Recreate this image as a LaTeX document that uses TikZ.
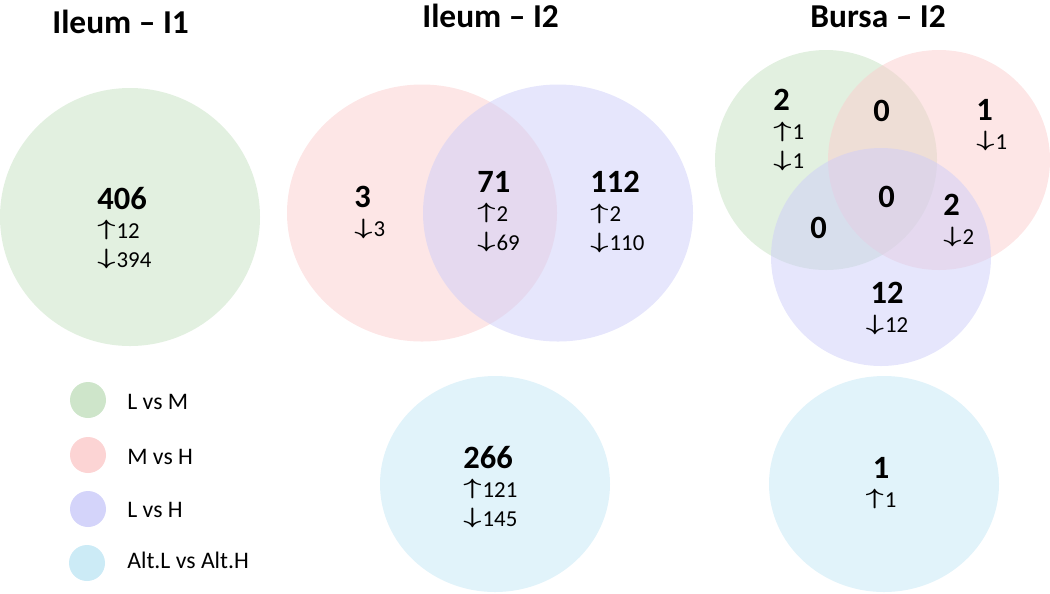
\documentclass[tikz,border=0pt]{standalone}
\usepackage{fontspec}
\setmainfont{Carlito}
\usetikzlibrary{positioning}

\definecolor{lmset}{RGB}{197,225,193}
\definecolor{mhset}{RGB}{251,205,205}
\definecolor{lhset}{RGB}{205,205,249}
\definecolor{altset}{RGB}{195,231,245}

\newcommand{\arrup}{\smash{\raisebox{1.5pt}{\scalebox{1.5}[1.05]{\boldmath$\uparrow$}}}\kern0.6pt}
\newcommand{\arrdn}{\smash{\raisebox{1.5pt}{\scalebox{1.5}[1.05]{\boldmath$\downarrow$}}}\kern0.6pt}
\newcommand{\vennnum}[1]{{\fontsize{18.5}{22}\selectfont\bfseries #1}}

\begin{document}
\begin{tikzpicture}[x=0.02cm, y=-0.02cm,
    setfill/.style={fill=#1, fill opacity=0.5},
    legdot/.style={fill=#1, fill opacity=0.85},
    title/.style={anchor=base west, inner sep=0pt, font=\fontsize{19}{22}\selectfont\bfseries},
    big/.style={anchor=base west, inner sep=0pt, font=\fontsize{18.5}{22}\selectfont\bfseries},
    count/.style={anchor=north west, inner sep=0pt, align=left, font=\fontsize{13}{16.5}\selectfont},
    ccount/.style={count, anchor=north, align=center},
    legtext/.style={anchor=base west, inner sep=0pt, font=\fontsize{13.5}{16}\selectfont}]

    \useasboundingbox (0,0) rectangle (1050,593);

    % Sets
    \fill[setfill=lmset] (130,217) ellipse [x radius=130, y radius=129];
    \fill[setfill=mhset] (422,213) ellipse [x radius=135, y radius=128.5];
    \fill[setfill=lhset] (558,213) ellipse [x radius=135, y radius=128.5];
    \fill[setfill=altset] (495,484) ellipse [x radius=115, y radius=108];
    \fill[setfill=lmset] (826,160) ellipse [x radius=111, y radius=110];
    \fill[setfill=mhset] (939,160) ellipse [x radius=111, y radius=110];
    \fill[setfill=lhset] (881,257) ellipse [x radius=110, y radius=109];
    \fill[setfill=altset] (884,484) ellipse [x radius=115, y radius=108];

    % Titles
    \node[title] (ileumA) at (52,33) {Ileum – I1};
    \node[title] (ileumB) at (422,27) {Ileum – I2};
    \node[title] (bursaB) at (810,27) {Bursa – I2};

    % Ileum - I1
    \node[count] (lmA) at (97,187) {\vennnum{406}\\ \arrup12\\ \arrdn394};

    % Ileum - I2
    \node[count] (mhB) at (354,186) {\vennnum{3}\\ \arrdn3};
    \node[count] (mhlhB) at (477,171) {\vennnum{71}\\ \arrup2\\ \arrdn69};
    \node[count] (lhB) at (590,171) {\vennnum{112}\\ \arrup2\\ \arrdn110};
    \node[count] (altB) at (463,446) {\vennnum{266}\\ \arrup121\\ \arrdn145};

    % Bursa - I2
    \node[count] (lmC) at (773,89) {\vennnum{2}\\ \arrup1\\ \arrdn1};
    \node[big] (lmmhC) at (873,121) {0};
    \node[count] (mhC) at (976,99) {\vennnum{1}\\ \arrdn1};
    \node[big] (allC) at (878,207) {0};
    \node[big] (lmlhC) at (810,238) {0};
    \node[count] (mhlhC) at (943,194) {\vennnum{2}\\ \arrdn2};
    \node[ccount] (lhC) at (887,282) {\vennnum{12}\\ \arrdn12};
    \node[ccount] (altC) at (881,457) {\vennnum{1}\\ \arrup1};

    % Legend
    \fill[legdot=lmset] (88,400) circle [radius=18];
    \fill[legdot=mhset] (88,455) circle [radius=18];
    \fill[legdot=lhset] (88,509) circle [radius=18];
    \fill[legdot=altset] (87,563) circle [radius=18];
    \node[legtext] (legLM) at (127,409) {L vs M};
    \node[legtext] (legMH) at (127,464) {M vs H};
    \node[legtext] (legLH) at (127,517) {L vs H};
    \node[legtext] (legAlt) at (127,568) {Alt.L vs Alt.H};
\end{tikzpicture}
\end{document}
